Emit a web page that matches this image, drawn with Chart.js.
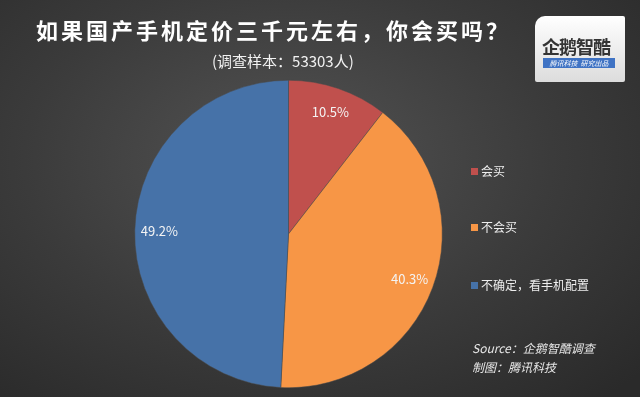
<!DOCTYPE html>
<html>
<head>
<meta charset="utf-8">
<script src="https://cdn.jsdelivr.net/npm/chart.js@4"></script>
<style>
  html, body { margin: 0; padding: 0; }
  body {
    width: 640px; height: 397px; overflow: hidden; position: relative;
    background: radial-gradient(ellipse 75% 80% at 45% 40%, #535353 0%, #3b3b3b 55%, #2a2a2a 100%);
    font-family: "Noto Sans CJK SC", "Noto Sans", sans-serif;
    color: #fff;
  }
  #chart { position: absolute; left: 0; top: 0; }
  .title {
    position: absolute; left: 36px; top: 13px; white-space: nowrap;
    font-size: 22px; font-weight: bold; letter-spacing: 3px; color: #fff;
  }
  .subtitle {
    position: absolute; left: 212px; top: 50px; white-space: nowrap;
    font-size: 15px; color: #f2f2f2;
  }
  .legend { position: absolute; left: 471px; top: 0; font-size: 12px; color: #eee; }
  .legend div { position: absolute; white-space: nowrap; }
  .legend span { display: inline-block; width: 7px; height: 7px; margin-right: 3px; vertical-align: 1px; }
  .source {
    position: absolute; left: 472px; top: 338px; font-size: 12px; font-style: italic;
    color: #e6e6e6; line-height: 19px;
  }
  .logo {
    position: absolute; left: 535px; top: 16px; width: 90px; height: 66px;
    background: linear-gradient(#ffffff, #dcdcdc); border-radius: 10px 2px 2px 2px;
  }
  .logo .name { position: absolute; left: 7px; top: 17px; font-size: 18px; font-weight: bold; color: #333; letter-spacing: -1px; }
  .logo .bar {
    position: absolute; left: 8px; top: 42px; width: 72px; height: 10px; background: #3f73c4;
    font-size: 7px; line-height: 10px; color: #fff; text-align: center; font-style: italic;
  }
</style>
</head>
<body>
<canvas id="chart" width="640" height="397"></canvas>
<div class="title">如果国产手机定价三千元左右，你会买吗？</div>
<div class="subtitle">(调查样本：53303人)</div>
<div class="legend" id="legend"></div>
<div class="source">Source：企鹅智酷调查<br>制图：腾讯科技</div>
<div class="logo"><div class="name">企鹅智酷</div><div class="bar">腾讯科技 &nbsp;研究出品</div></div>
<script>
const labels = ["会买", "不会买", "不确定，看手机配置"];
const values = [10.5, 40.3, 49.2];
const colors = ["#C0504D", "#F79646", "#4672A8"];
const legendTops = [162, 218, 276];

// legend built from the same arrays
const legend = document.getElementById("legend");
labels.forEach((l, i) => {
    const d = document.createElement("div");
    d.style.top = legendTops[i] + "px";
    d.innerHTML = `<span style="background:${colors[i]}"></span>${l}`;
    legend.appendChild(d);
});

const pctLabels = {
    id: 'pctLabels',
    afterDatasetsDraw(chart) {
        const ctx = chart.ctx;
        const meta = chart.getDatasetMeta(0);
        ctx.save();
        ctx.font = '13px "Noto Sans CJK SC", "Noto Sans", sans-serif';
        ctx.fillStyle = '#f4f4f4';
        ctx.textAlign = 'center';
        ctx.textBaseline = 'middle';
        meta.data.forEach((arc, i) => {
            const p = arc.getProps(['x', 'y', 'startAngle', 'endAngle', 'outerRadius'], true);
            const a = (p.startAngle + p.endAngle) / 2;
            const r = p.outerRadius * 0.84;
            ctx.fillText(values[i].toFixed(1) + '%', p.x + Math.cos(a) * r, p.y + Math.sin(a) * r);
        });
        ctx.restore();
    }
};

new Chart(document.getElementById("chart").getContext("2d"), {
    type: 'pie',
    data: {
        labels: labels,
        datasets: [{
            data: values,
            backgroundColor: colors,
            borderColor: '#4a4a4a',
            borderWidth: 0.5,
            hoverOffset: 0
        }]
    },
    options: {
        responsive: false,
        animation: false,
        layout: { padding: { top: 80, bottom: 9, left: 134, right: 197 } },
        plugins: {
            legend: { display: false },
            tooltip: { enabled: false },
            title: { display: false }
        }
    },
    plugins: [pctLabels]
});
</script>
</body>
</html>
